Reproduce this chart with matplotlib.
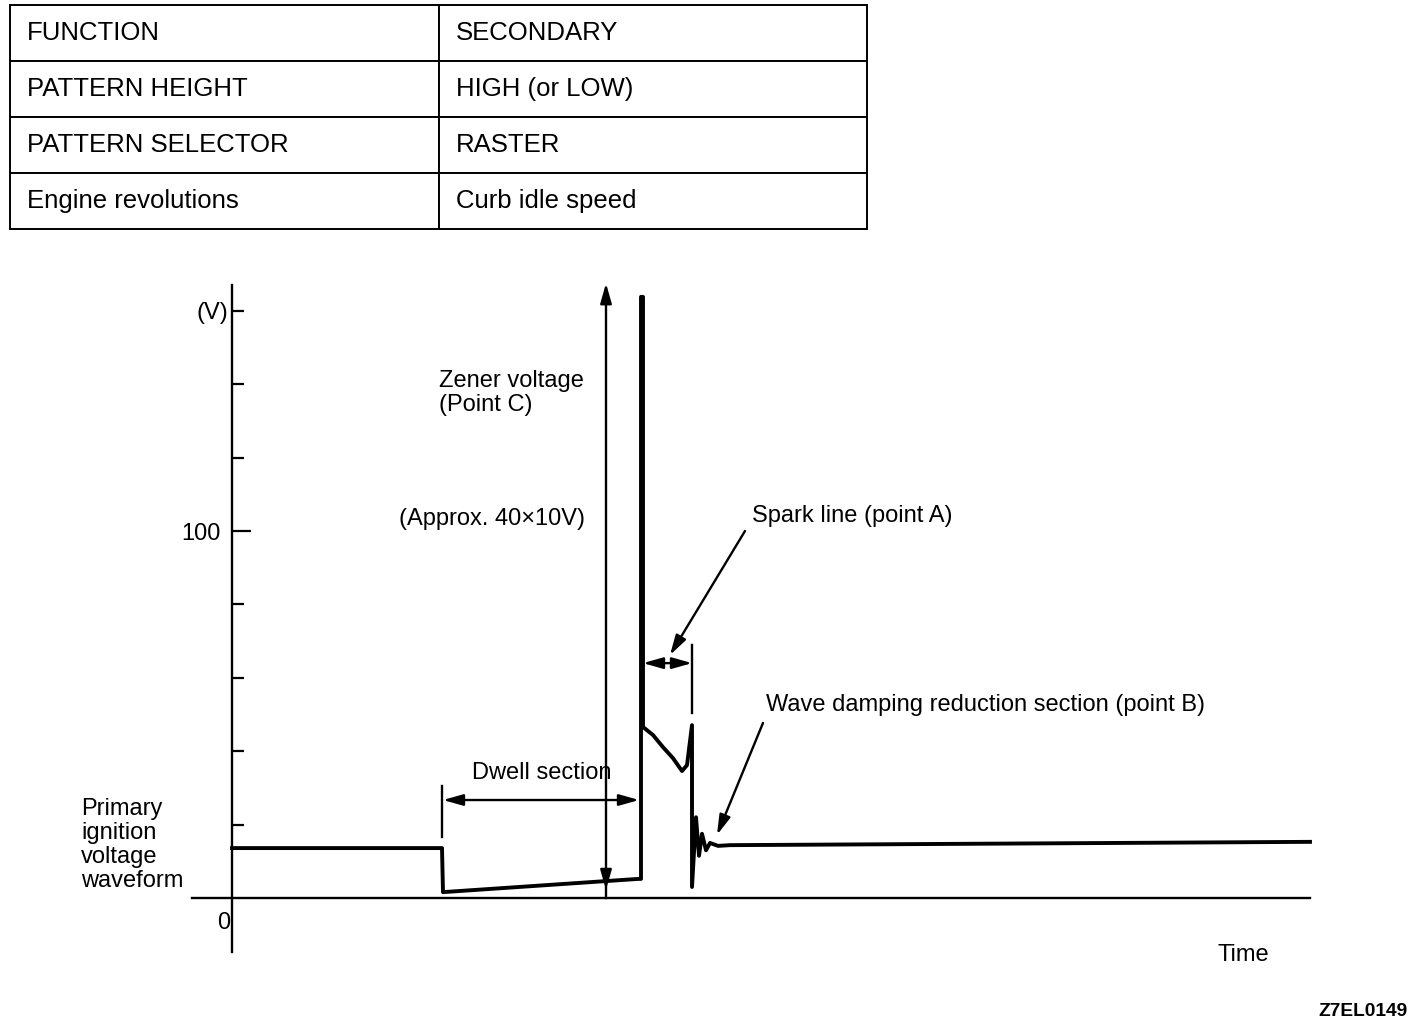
import matplotlib
matplotlib.use("Agg")
import matplotlib.pyplot as plt

plt.rcParams['font.family'] = ['Liberation Sans', 'DejaVu Sans']

# settings table
table_rows = [["FUNCTION", "SECONDARY"],
              ["PATTERN HEIGHT", "HIGH (or LOW)"],
              ["PATTERN SELECTOR", "RASTER"],
              ["Engine revolutions", "Curb idle speed"]]

# primary ignition waveform (time in arbitrary units, volts)
t_wave = [0, 21.0, 21.1, 40.6, 40.9, 40.9, 41.1, 41.1, 42.1, 43.1, 44.1, 45.0, 45.5, 46.0,
          46.0, 46.4, 46.7, 47.0, 47.4, 47.8, 48.6, 49.8, 107.8]
v_wave = [13.6, 13.6, 1.6, 5.2, 5.2, 163.8, 163.8, 46.6, 44.4, 41.1, 38.1, 34.6, 36.2, 47.1,
          3.0, 22.0, 11.5, 17.5, 13.0, 15.0, 14.2, 14.4, 15.3]

minor_ticks = [20, 40, 60, 80, 120, 140, 160]
major_ticks = [100]

t_zener = 37.4      # zener voltage marker
zener_top = 167.5
dwell = (21.1, 40.7, 26.7)   # start, end, level of dimension line
spark = (41.1, 46.0, 64.0)

fig = plt.figure(figsize=(14.24, 10.26), dpi=100)
ax = fig.add_axes([0, 0, 1, 1])
ax.set_xlim(-23.2, 119.2)
ax.set_ylim(-(1026 - 898) / 3.67, 898 / 3.67)
ax.patch.set_alpha(0)

for s in ['top', 'right']:
    ax.spines[s].set_visible(False)
ax.spines['left'].set_position(('data', 0))
ax.spines['left'].set_bounds(-14.7, 167)
ax.spines['bottom'].set_position(('data', 0))
ax.spines['bottom'].set_bounds(-4.0, 107.8)
for s in ['left', 'bottom']:
    ax.spines[s].set_linewidth(1.7)
ax.set_xticks([])
ax.set_yticks(major_ticks, labels=['100'])
ax.set_yticks(minor_ticks, minor=True)
ax.tick_params(axis='y', which='major', direction='in', length=14, width=1.6, pad=8, labelsize=17)
ax.tick_params(axis='y', which='minor', direction='in', length=8.5, width=1.6)

ax.plot(t_wave, v_wave, color='black', lw=2.8, solid_joinstyle='round')

arrow = dict(arrowstyle='-|>,head_length=0.6,head_width=0.17', mutation_scale=20,
             lw=1.7, color='black', shrinkA=0, shrinkB=0)
dim = dict(arrow, arrowstyle='<|-|>,head_length=0.6,head_width=0.17')

# zener voltage arrow
ax.plot([t_zener, t_zener], [0, 3], color='black', lw=1.7)
ax.annotate('', xy=(t_zener, zener_top), xytext=(t_zener, 2.2), arrowprops=dim)

# dwell section
ax.annotate('', xy=(dwell[0], dwell[2]), xytext=(dwell[1], dwell[2]), arrowprops=dim)
ax.plot([21.0, 21.0], [16.6, 30.6], color='black', lw=1.7)

# spark line
ax.annotate('', xy=(spark[0], spark[2]), xytext=(spark[1], spark[2]), arrowprops=dim)
ax.plot([46.0, 46.0], [50.4, 68.9], color='black', lw=1.7)
ax.annotate('', xy=(43.8, 66.2), xytext=(51.3, 100.0), arrowprops=arrow)
ax.annotate('', xy=(48.5, 17.2), xytext=(53.1, 47.7), arrowprops=arrow)

fs = 17
dy = -0.5
ax.text(20.7, 141.4 + dy, "Zener voltage", fontsize=fs, va='center')
ax.text(20.7, 134.9 + dy, "(Point C)", fontsize=fs, va='center')
ax.text(16.7, 103.8 + dy, "(Approx. 40\u00d710V)", fontsize=fs, va='center')
ax.text(52.0, 104.6 + dy, "Spark line (point A)", fontsize=fs, va='center')
ax.text(53.4, 53.1 + dy, "Wave damping reduction section (point B)", fontsize=fs, va='center')
ax.text(24.0, 34.6 + dy, "Dwell section", fontsize=fs, va='center')
for i, word in enumerate(["Primary", "ignition", "voltage", "waveform"]):
    ax.text(-15.1, 24.8 + dy - i * 6.55, word, fontsize=fs, va='center')
ax.text(-0.2, -6.3 + dy, "0", fontsize=fs, va='center', ha='right')
ax.text(-0.4, 159.9 + dy, "(V)", fontsize=fs, va='center', ha='right')
ax.text(98.6, -15.0 + dy, "Time", fontsize=fs, va='center')
ax.text(117.6, -30.8, "Z7EL0149", fontsize=13.8, va='center', ha='right', fontweight='bold')

# table at the top
tax = fig.add_axes([10 / 1424, 1 - 229 / 1026, 857 / 1424, 224 / 1026])
tax.axis('off')
tbl = tax.table(cellText=table_rows, cellLoc='left', colWidths=[429 / 857, 428 / 857],
                bbox=[0, 0, 1, 1])
tbl.auto_set_font_size(False)
tbl.set_fontsize(18.5)
for cell in tbl.get_celld().values():
    cell.set_linewidth(1.4)
    cell.PAD = 0.04

fig.savefig("out.png", dpi=100)
